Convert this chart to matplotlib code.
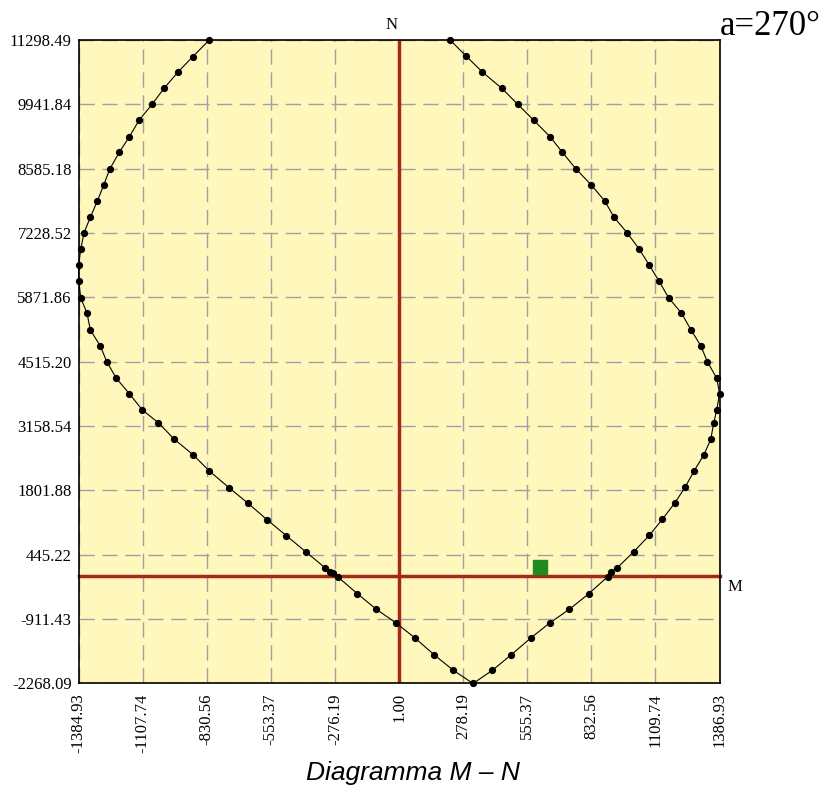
# Diagramma di interazione M - N (a=270°)
import numpy as np
import matplotlib
matplotlib.use('Agg')
import matplotlib.pyplot as plt

# Punti del dominio resistente (M, N)
M_dom = [-819.3, -891.1, -954.6, -1015.2, -1067.1, -1123.3, -1165.2, -1208.5, -1250.0,
         -1275.9, -1303.6, -1333.9, -1361.2, -1375.4, -1384.9, -1384.0, -1375.4, -1348.2,
         -1333.9, -1290.7, -1263.0, -1221.5, -1165.2, -1109.0, -1039.8, -970.6, -888.5,
         -819.3, -734.1, -651.9, -569.8, -486.3, -402.5, -319.0, -297.4, -283.1, -261.5,
         -179.3, -97.1, -13.3, 70.2, 152.3, 235.8, 321.0,
         404.4, 486.6, 570.5, 654.0, 737.4, 821.3, 903.5, 917.7, 942.4, 1015.9, 1083.4,
         1139.6, 1193.2, 1237.7, 1276.7, 1318.6, 1348.9, 1361.9, 1374.9, 1386.9, 1374.9,
         1334.2, 1305.6, 1263.7, 1221.8, 1166.4, 1126.2, 1083.4, 1040.1, 986.9, 930.7,
         890.5, 832.5, 765.1, 707.2, 654.0, 583.5, 514.3, 445.2, 361.2, 292.0, 221.5]
N_dom = [11298.5, 10946.4, 10623.8, 10280.2, 9942.9, 9605.5, 9259.8, 8930.9, 8578.8,
         8241.5, 7904.1, 7560.5, 7235.8, 6885.8, 6548.5, 6207.0, 5863.3, 5536.5,
         5184.5, 4847.1, 4516.1, 4166.1, 3841.5, 3497.8, 3230.0, 2880.1, 2549.1,
         2211.7, 1859.6, 1530.7, 1185.0, 847.7, 510.3, 170.9, 88.7, 51.0, -29.4,
         -375.2, -704.1, -986.6, -1309.1, -1661.2, -1990.1, -2268.1,
         -1990.1, -1661.2, -1309.1, -986.6, -704.1, -375.2, -16.7, 88.7, 160.4, 510.3, 856.1,
         1193.4, 1537.1, 1868.1, 2211.7, 2549.1, 2880.1, 3230.0, 3504.1, 3841.5, 4166.1,
         4516.1, 4853.5, 5184.5, 5542.8, 5865.4, 6207.0, 6548.5, 6885.8, 7235.8, 7560.5,
         7904.1, 8241.5, 8585.1, 8930.9, 9259.8, 9605.5, 9942.9, 10280.2, 10623.8, 10954.8,
         11298.5]

# Sollecitazione di progetto
M_sd = [612.0]
N_sd = [181.0]

# Etichette degli assi
x_ticks = [-1384.93, -1107.74, -830.56, -553.37, -276.19, 1.00, 278.19, 555.37, 832.56, 1109.74, 1386.93]
y_ticks = [-2268.09, -911.43, 445.22, 1801.88, 3158.54, 4515.20, 5871.86, 7228.52, 8585.18, 9941.84, 11298.49]

serif = 'Liberation Serif'
rosso = '#a3291b'

fig = plt.figure(figsize=(8.25, 7.92), dpi=100)
ax = fig.add_axes([0.0952, 0.137, 0.777, 0.8125])
ax.set_facecolor('#fff7bb')

ax.set_xlim(x_ticks[0], x_ticks[-1])
ax.set_ylim(y_ticks[0], y_ticks[-1])
ax.set_xticks(x_ticks)
ax.set_yticks(y_ticks)
ax.set_xticklabels(['%.2f' % v for v in x_ticks], rotation=90, family=serif, fontsize=12)
ax.set_yticklabels(['%.2f' % v for v in y_ticks], family=serif, fontsize=12)
ax.tick_params(axis='x', length=0, pad=7)
ax.tick_params(axis='y', length=0, pad=5)

ax.grid(True, color='#a0a0a4', linestyle=(0, (11, 5.5)), linewidth=1)
ax.set_axisbelow(True)

# assi M e N
ax.axvline(0, color=rosso, lw=2.5, zorder=2)
ax.axhline(0, color=rosso, lw=2.5, zorder=2, clip_on=False)

ax.plot(M_dom, N_dom, color='black', lw=0.8, marker='o', ms=4.2, zorder=3, clip_on=False)
ax.plot(M_sd, N_sd, linestyle='none', marker='s', ms=10, color='#1f8a1f', zorder=4)

for s in ax.spines.values():
    s.set_linewidth(1.2)

ax.text(-30, 11298.49 + 320, 'N', family=serif, fontsize=12, ha='center', va='center')
ax.text(1386.93 + 35, -230, 'M', family=serif, fontsize=12, ha='left', va='center')

fig.text(0.995, 0.987, 'a=270°', family=serif, fontsize=25, ha='right', va='top')
fig.text(0.5, 0.024, 'Diagramma M – N', family='Liberation Sans', style='italic', fontsize=19,
         ha='center', va='center')

fig.savefig('out.png', dpi=100)
